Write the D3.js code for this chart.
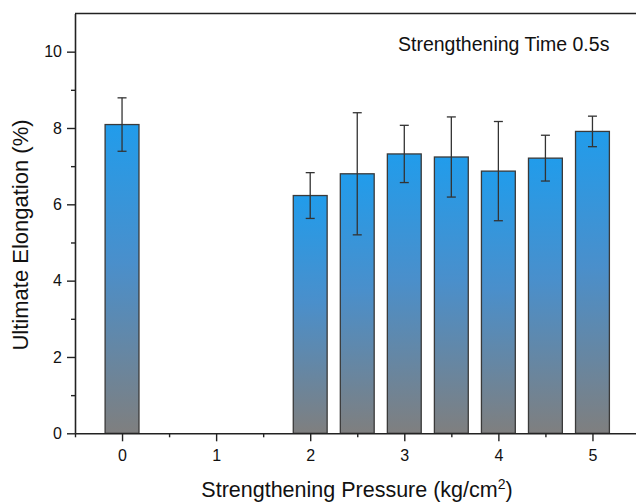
<!DOCTYPE html>
<html>
<head>
<meta charset="utf-8">
<script src="https://cdn.jsdelivr.net/npm/d3@7"></script>
<style>
  html, body { margin: 0; padding: 0; background: #fff; }
  svg { display: block; font-family: "Liberation Sans", Arial, sans-serif; }
</style>
</head>
<body>
<svg id="chart" width="636" height="503"></svg>
<script>
// Strengthening pressure (kg/cm²) for each bar
const pressures = [0, 2, 2.5, 3, 3.5, 4, 4.5, 5];
// Mean ultimate elongation (%)
const elongation = [8.09, 6.23, 6.80, 7.32, 7.24, 6.87, 7.21, 7.91];
// Standard deviation (%)
const elongationErr = [0.70, 0.60, 1.60, 0.75, 1.05, 1.30, 0.60, 0.40];
const xTickValues = [0, 1, 2, 3, 4, 5];
const yTickValues = [0, 2, 4, 6, 8, 10];

const svg = d3.select("#chart");
const plotLeft = 75, plotRight = 639.5, plotTop = 13.5, plotBottom = 433.3;

const x = d3.scaleLinear().domain([-0.5, 5.5]).range([plotLeft, plotRight]);
const y = d3.scaleLinear().domain([0, 11]).range([plotBottom, plotTop]);
const barW = x(0.36) - x(0);

// vertical blue-to-grey fill for each bar
const defs = svg.append("defs");
const grad = defs.append("linearGradient")
  .attr("id", "barFill").attr("x1", 0).attr("y1", 0).attr("x2", 0).attr("y2", 1);
grad.append("stop").attr("offset", "0%").attr("stop-color", "#219ceb");
grad.append("stop").attr("offset", "45%").attr("stop-color", "#4a8fcb");
grad.append("stop").attr("offset", "100%").attr("stop-color", "#7f7f7f");

const data = pressures.map((p, i) => ({ p, v: elongation[i], e: elongationErr[i] }));

// bars
svg.append("g").selectAll("rect").data(data).join("rect")
  .attr("x", d => x(d.p) - barW / 2)
  .attr("y", d => y(d.v))
  .attr("width", barW)
  .attr("height", d => y(0) - y(d.v))
  .attr("fill", "url(#barFill)")
  .attr("stroke", "#3a3a3a")
  .attr("stroke-width", 1.3);

// error bars
const eg = svg.append("g").attr("stroke", "#333").attr("stroke-width", 1.3);
const capW = 4.5;
data.forEach(d => {
  eg.append("line").attr("x1", x(d.p)).attr("x2", x(d.p))
    .attr("y1", y(d.v + d.e)).attr("y2", y(d.v - d.e));
  [d.v + d.e, d.v - d.e].forEach(yy => {
    eg.append("line").attr("x1", x(d.p) - capW).attr("x2", x(d.p) + capW)
      .attr("y1", y(yy)).attr("y2", y(yy));
  });
});

// axes
const xAxis = d3.axisBottom(x).tickValues(xTickValues).tickFormat(d3.format("d"))
  .tickSizeInner(8).tickSizeOuter(0).tickPadding(8);
const xMinor = d3.axisBottom(x).tickValues([-0.5, 0.5, 1.5, 2.5, 3.5, 4.5])
  .tickSize(4).tickFormat("");
const yAxis = d3.axisLeft(y).tickValues(yTickValues).tickFormat(d3.format("d"))
  .tickSizeInner(8).tickSizeOuter(0).tickPadding(5);
const yMinor = d3.axisLeft(y).tickValues([1, 3, 5, 7, 9])
  .tickSize(4).tickFormat("");

function styleAxis(g) {
  g.attr("font-size", 16).attr("font-family", "'Liberation Sans', Arial, sans-serif");
  g.selectAll(".domain").attr("stroke", "#222").attr("stroke-width", 1.6);
  g.selectAll(".tick line").attr("stroke", "#222").attr("stroke-width", 1.4);
  g.selectAll(".tick text").attr("fill", "#111");
}

svg.append("g").attr("transform", `translate(0,${plotBottom})`).call(xMinor).call(styleAxis)
  .select(".domain").remove();
svg.append("g").attr("transform", `translate(0,${plotBottom})`).call(xAxis).call(styleAxis);
svg.append("g").attr("transform", `translate(${plotLeft},0)`).call(yMinor).call(styleAxis)
  .select(".domain").remove();
svg.append("g").attr("transform", `translate(${plotLeft},0)`).call(yAxis).call(styleAxis);

// top frame line
svg.append("line").attr("x1", plotLeft).attr("x2", plotRight).attr("y1", plotTop).attr("y2", plotTop)
  .attr("stroke", "#222").attr("stroke-width", 1.6);

// axis titles
const xTitle = svg.append("text")
  .attr("x", 357).attr("y", 497)
  .attr("text-anchor", "middle").attr("fill", "#111")
  .attr("font-size", 21.5);
xTitle.append("tspan").text("Strengthening Pressure (kg/cm");
xTitle.append("tspan").attr("dy", -8).attr("font-size", 14).text("2");
xTitle.append("tspan").attr("dy", 8).text(")");

svg.append("text")
  .attr("transform", `translate(27.5,235) rotate(-90)`)
  .attr("text-anchor", "middle").attr("fill", "#111")
  .attr("font-size", 22)
  .text("Ultimate Elongation (%)");

// annotation
svg.append("text")
  .attr("x", 398).attr("y", 51)
  .attr("fill", "#111").attr("font-size", 19.5)
  .text("Strengthening Time 0.5s");
</script>
</body>
</html>
